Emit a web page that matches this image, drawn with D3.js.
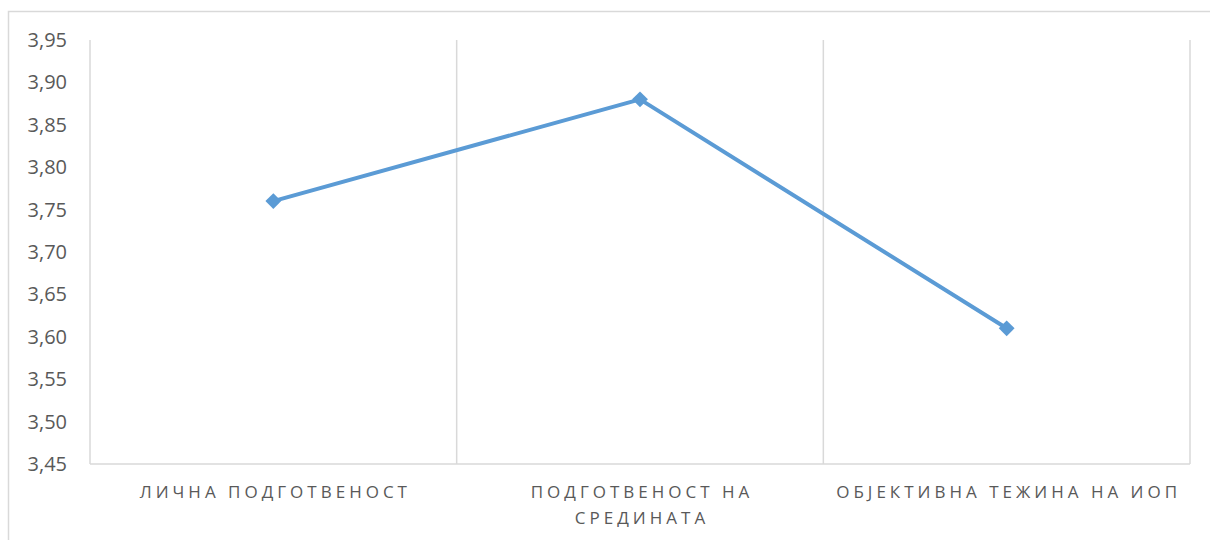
<!DOCTYPE html>
<html>
<head>
<meta charset="utf-8">
<script src="https://cdn.jsdelivr.net/npm/d3@7"></script>
<style>
  body { margin: 0; background: #fff; }
  svg text { font-family: "Open Sans", sans-serif; fill: #595959; }
</style>
</head>
<body>
<div id="chart"></div>
<script>
// Set size constants
var totWidth = 1210,
    totHeight = 540;
var margins = {top: 40, right: 20, bottom: 76, left: 90};
var width = totWidth - margins.left - margins.right,
    height = totHeight - margins.top - margins.bottom;

// Data
var categories = [["ЛИЧНА ПОДГОТВЕНОСТ"], ["ПОДГОТВЕНОСТ НА", "СРЕДИНАТА"], ["ОБЈЕКТИВНА ТЕЖИНА НА ИОП"]];
var values = [3.76, 3.88, 3.61];
var yTicks = [3.45, 3.50, 3.55, 3.60, 3.65, 3.70, 3.75, 3.80, 3.85, 3.90, 3.95];

var svgRoot = d3.select("#chart")
  .append("svg")
    .attr("width", totWidth)
    .attr("height", totHeight);

// outer chart frame
svgRoot.append("rect")
  .attr("x", 8.5)
  .attr("y", 11.5)
  .attr("width", totWidth + 10)
  .attr("height", totHeight + 10)
  .attr("fill", "none")
  .attr("stroke", "#d9d9d9")
  .attr("stroke-width", 1.5);

var svg = svgRoot.append("g")
    .attr("transform", "translate(" + margins.left + "," + margins.top + ")");

var x = d3.scaleBand()
  .domain(d3.range(categories.length))
  .range([0, width])
  .padding(0);

var y = d3.scaleLinear()
  .domain([3.45, 3.95])
  .range([height, 0]);

// vertical gridlines at category boundaries
var bounds = d3.range(categories.length + 1).map(function(i) { return i * x.bandwidth(); });
svg.selectAll(".vgrid")
  .data(bounds)
  .enter()
  .append("line")
    .attr("x1", function(d) { return d; })
    .attr("x2", function(d) { return d; })
    .attr("y1", 0)
    .attr("y2", height)
    .attr("stroke", "#d9d9d9")
    .attr("stroke-width", 1.5);

// bottom axis line
svg.append("line")
  .attr("x1", 0)
  .attr("x2", width)
  .attr("y1", height)
  .attr("y2", height)
  .attr("stroke", "#d9d9d9")
  .attr("stroke-width", 1.5);

// Y axis labels
var yAxis = svg.append("g")
  .call(d3.axisLeft(y)
    .tickValues(yTicks)
    .tickSize(0)
    .tickPadding(23)
    .tickFormat(function(d) { return d3.format(".2f")(d).replace(".", ","); }));
yAxis.select(".domain").remove();
yAxis.selectAll("text")
  .attr("font-size", "20px")
  .attr("fill", "#595959")
  .style("font-family", "'Open Sans', sans-serif");

// X axis labels
var xLabels = svg.selectAll(".xlab")
  .data(categories)
  .enter()
  .append("text")
    .attr("class", "xlab")
    .attr("text-anchor", "middle")
    .attr("font-size", "17px")
    .attr("letter-spacing", "4px")
    .attr("x", function(d, i) { return x(i) + x.bandwidth() / 2 + 2; })
    .attr("y", height + 34);
xLabels.selectAll("tspan")
  .data(function(d) { return d; })
  .enter()
  .append("tspan")
    .attr("x", function() { return d3.select(this.parentNode).attr("x"); })
    .attr("dy", function(d, i) { return i === 0 ? 0 : 26; })
    .text(function(d) { return d; });

// Line
var line = d3.line()
  .x(function(d, i) { return x(i) + x.bandwidth() / 2; })
  .y(function(d) { return y(d); });

svg.append("path")
  .datum(values)
  .attr("fill", "none")
  .attr("stroke", "#5b9bd5")
  .attr("stroke-width", 4)
  .attr("stroke-linejoin", "round")
  .attr("d", line);

// Diamond markers
svg.selectAll(".marker")
  .data(values)
  .enter()
  .append("path")
    .attr("class", "marker")
    .attr("d", d3.symbol().type(d3.symbolDiamond2).size(160))
    .attr("transform", function(d, i) {
      return "translate(" + (x(i) + x.bandwidth() / 2) + "," + y(d) + ")";
    })
    .attr("fill", "#5b9bd5");
</script>
</body>
</html>
